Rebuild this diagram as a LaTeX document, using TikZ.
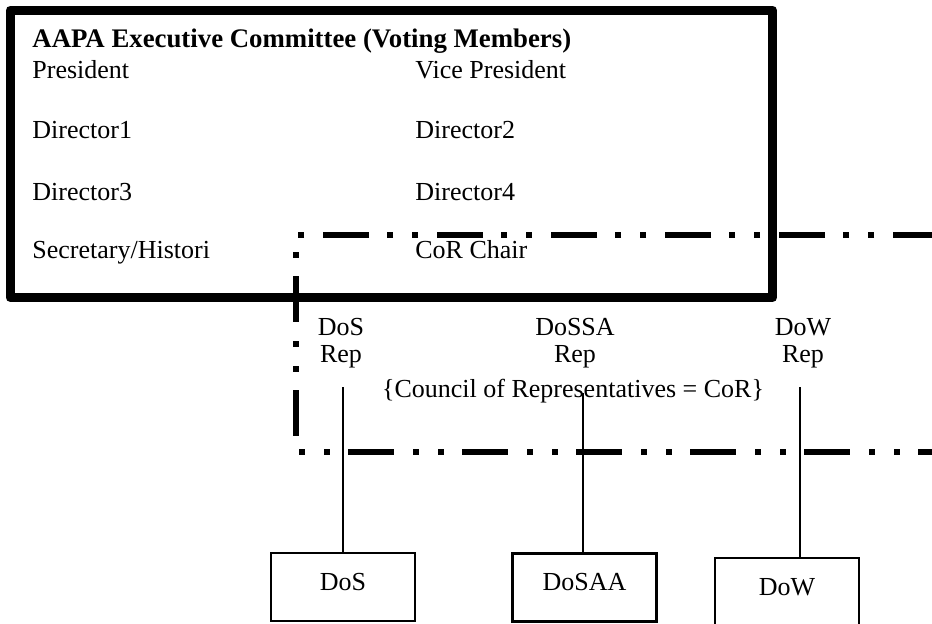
\documentclass[tikz,border=0pt]{standalone}
\usepackage{fontspec}
\setmainfont{Liberation Serif}
\tikzset{
  committee frame/.style={
    draw=black, line width=4.5pt, line join=round
  },
  council frame/.style={
    draw=black, line width=2.9pt, line cap=butt, line join=miter,
    dash pattern=on 23pt off 9.5pt on 3pt off 9.5pt on 3pt off 9pt
  },
  member/.style={
    anchor=base west, inner sep=0pt, font=\fontsize{13}{15.6}\selectfont
  },
  rep label/.style={
    anchor=base, align=center, inner sep=0pt, font=\fontsize{13}{13.5}\selectfont
  },
  unit box/.style={
    rectangle, draw=black, line width=1.1pt, inner sep=0pt,
    text height=9pt, text depth=6pt,
    minimum width=72pt, minimum height=34pt, font=\fontsize{13}{15.6}\selectfont
  },
  link/.style={draw=black, line width=1pt}
}

\begin{document}
\begin{tikzpicture}[x=0.5pt, y=-0.5pt]
  \useasboundingbox (0,0) rectangle (932,623);

% ------------------------------------------------
% Executive committee box
% ------------------------------------------------
  \coordinate (cmtNW) at (10,10);
  \coordinate (cmtSE) at (772.5,297.5);
  \draw[committee frame] (cmtNW) rectangle (cmtSE);

  \node[member, font=\fontsize{13.4}{16}\selectfont\bfseries] (title) at (32,47)
    {AAPA Executive Committee (Voting Members)};
  \node[member] (pres)  at (32,78)  {President};
  \node[member] (dir1)  at (32,138) {Director1};
  \node[member] (dir3)  at (32,200) {Director3};
  \node[member] (sec)   at (32,258) {Secretary/Histori};
  \node[member] (vpres) at (415,78)  {Vice President};
  \node[member] (dir2)  at (415,138) {Director2};
  \node[member] (dir4)  at (415,200) {Director4};
  \node[member] (chair) at (415,258) {CoR Chair};

% ------------------------------------------------
% Council of representatives (open dash-dot-dot frame)
% ------------------------------------------------
  \coordinate (corTR) at (939,235);
  \coordinate (corTL) at (296,235);
  \coordinate (corBL) at (296,452);
  \coordinate (corBR) at (939,452);
  \draw[council frame] (corTR) -- (corTL) -- (corBL) -- (corBR);

  % anchor=base sits on the last line (Rep)
  \node[rep label] (dosRep)   at (341,362) {DoS\\Rep};
  \node[rep label] (dossaRep) at (575,362) {DoSSA\\Rep};
  \node[rep label] (dowRep)   at (803,362) {DoW\\Rep};
  \node[rep label] (council)  at (573,397) {\{Council of Representatives = CoR\}};

% ------------------------------------------------
% Divisions
% ------------------------------------------------
  \node[unit box] (dosBox)   at (343,587)   {DoS};
  \node[unit box] (dosaaBox) at (584.5,587.5) {DoSAA};
  \node[unit box] (dowBox)   at (787,592)   {DoW};

  \coordinate (dosTop)   at (343,387);
  \coordinate (dossaTop) at (583,393);
  \coordinate (dowTop)   at (800,387);

  \draw[link] (dosTop) -- (dosBox.north);
  \draw[link] (dossaTop) -- (dossaTop |- dosaaBox.north);
  \draw[link] (dowTop) -- (dowTop |- dowBox.north);
\end{tikzpicture}
\end{document}
